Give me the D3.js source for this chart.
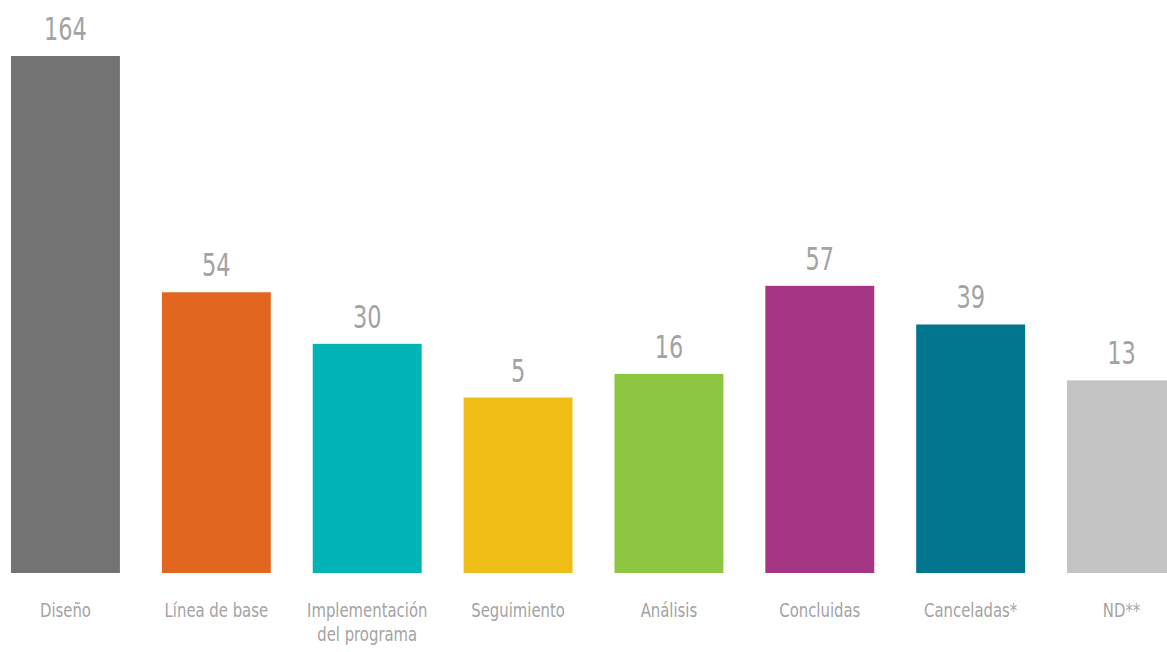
<!DOCTYPE html>
<html>
<head>
<meta charset="utf-8">
<script src="https://cdnjs.cloudflare.com/ajax/libs/d3/7.8.5/d3.min.js"></script>
<style>
  body { margin: 0; background: #fff; overflow: hidden; }
  svg text { font-family: "DejaVu Sans Condensed", "Liberation Sans Narrow", "DejaVu Sans", sans-serif; font-stretch: condensed; fill: #a3a3a3; }
</style>
</head>
<body>
<svg></svg>
<script>
var categories = ["Diseño", "Línea de base", "Implementación del programa", "Seguimiento", "Análisis", "Concluidas", "Canceladas*", "ND**"];
var values = [164, 54, 30, 5, 16, 57, 39, 13];
var colors = ["#737373", "#e2661f", "#00b3b5", "#efbe16", "#8dc641", "#a43684", "#00758d", "#c3c3c3"];

var width = 1167, height = 652;
var baseY = 573, topY = 56;

var svg = d3.select("svg")
  .attr("width", width)
  .attr("height", height);

//band scale for the bars
var x = d3.scaleBand()
  .domain(categories)
  .range([11, 1176])
  .paddingInner(0.278)
  .paddingOuter(0);

// the original bars don't start at zero, the floor sits below it
var y = d3.scaleLinear()
  .domain([-76.7, d3.max(values)])
  .range([baseY, topY]);

var data = categories.map(function(c, i){ return { cat: c, val: values[i], color: colors[i] }; });

svg.append("g")
  .selectAll("rect")
  .data(data)
  .enter()
  .append("rect")
  .attr("x", function(d){ return x(d.cat); })
  .attr("y", function(d){ return y(d.val); })
  .attr("width", x.bandwidth())
  .attr("height", function(d){ return baseY - y(d.val); })
  .attr("fill", function(d){ return d.color; });

//value labels (squeezed a bit, the original face is narrower)
svg.append("g")
  .selectAll("text")
  .data(data)
  .enter()
  .append("text")
  .attr("transform", function(d){ return "translate(" + (x(d.cat) + x.bandwidth()/2) + "," + (y(d.val) - 16) + ") scale(0.78,1)"; })
  .attr("text-anchor", "middle")
  .style("font-size", "32px")
  .text(function(d){ return d.val; });

//category labels, wrapped by hand
var labels = svg.append("g")
  .selectAll("text")
  .data(data)
  .enter()
  .append("text")
  .attr("text-anchor", "middle")
  .style("font-size", "19px")
  .attr("transform", function(d){ return "translate(" + (x(d.cat) + x.bandwidth()/2) + ",617) scale(0.87,1)"; });

labels.each(function(d){
  var lines = d.cat == "Implementación del programa" ? ["Implementación", "del programa"] : [d.cat];
  d3.select(this).selectAll("tspan")
    .data(lines)
    .enter()
    .append("tspan")
    .attr("x", 0)
    .attr("dy", function(l, i){ return i == 0 ? 0 : 24; })
    .text(function(l){ return l; });
});
</script>
</body>
</html>
